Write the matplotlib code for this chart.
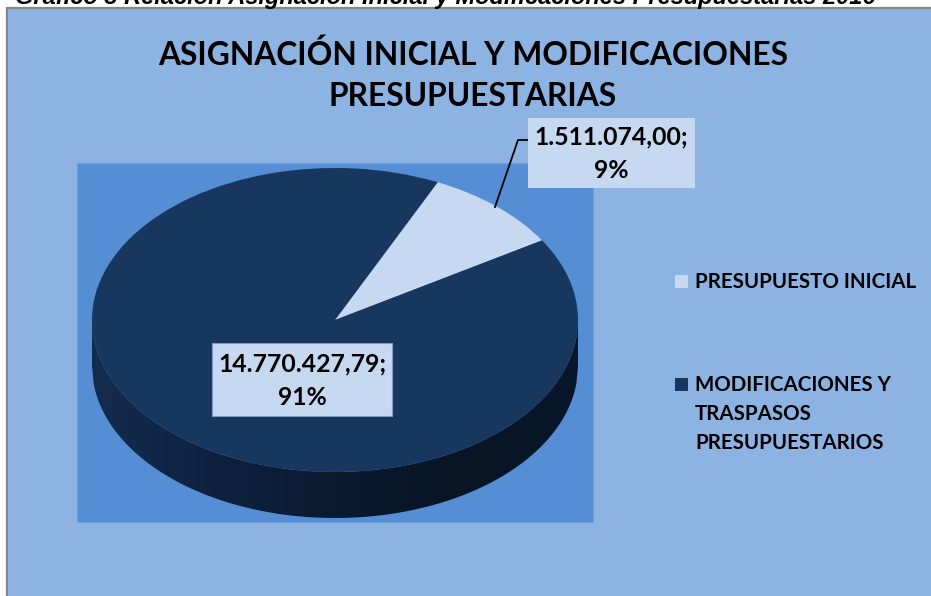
import numpy as np
import matplotlib
matplotlib.use("Agg")
import matplotlib.pyplot as plt
from matplotlib.patches import Rectangle, Polygon
from matplotlib.colors import LinearSegmentedColormap

W, H = 931, 596

caption = "Gráfico 3 Relación Asignación Inicial y Modificaciones Presupuestarias 2016"
title_lines = ["ASIGNACIÓN INICIAL Y MODIFICACIONES", "PRESUPUESTARIAS"]
categories = ["PRESUPUESTO INICIAL", "MODIFICACIONES Y\nTRASPASOS\nPRESUPUESTARIOS"]
values = [1511074.00, 14770427.79]
colors = ["#C6D9F1", "#17375E"]

FONT = "Lato"


def fx(x):
    return x / W


def fy(y):
    return 1 - y / H


def fmt_es(v):
    s = f"{v:,.2f}"
    return s.replace(",", "X").replace(".", ",").replace("X", ".")


fig = plt.figure(figsize=(W / 100, H / 100), dpi=100)
fig.patch.set_facecolor("white")

# chart area and plot area
fig.patches.append(Rectangle((fx(7), fy(H + 20)), fx(W + 20), (H + 12) / H,
                             transform=fig.transFigure, facecolor="#8DB3E2",
                             edgecolor="#878787", lw=1.6, zorder=0))
fig.patches.append(Rectangle((fx(77), fy(522)), fx(593 - 77), (522 - 163) / H,
                             transform=fig.transFigure, facecolor="#558ED5",
                             edgecolor="#6F9FDC", lw=0.8, zorder=1))

# caption (cut at the top of the image, as in the source)
fig.text(fx(15), fy(4), caption, fontsize=17, fontweight="bold", style="italic",
         family="Liberation Sans", ha="left", va="baseline")

# title
fig.text(fx(473), fy(55), title_lines[0], fontsize=22.9, fontweight="bold",
         family=FONT, ha="center", va="center")
fig.text(fx(473), fy(97), title_lines[1], fontsize=22.9, fontweight="bold",
         family=FONT, ha="center", va="center")

# pie
depth = 0.303
ax = fig.add_axes([fx(92), fy(518), fx(578 - 92), (518 - 168) / H])
ax.set_zorder(2)
ax.patch.set_alpha(0)

# side wall of the cylinder
xs = np.linspace(-1, 1, 300)
top_arc = -np.sqrt(1 - xs ** 2)
side = np.concatenate([np.column_stack([xs, top_arc]),
                       np.column_stack([xs[::-1], top_arc[::-1] - depth])])
side_poly = Polygon(side, closed=True, facecolor="none", edgecolor="none")
ax.add_patch(side_poly)
grad_cmap = LinearSegmentedColormap.from_list(
    "side", ["#142C4E", "#0E2240", "#0A1A30", "#071525", "#081729"])
grad = np.linspace(0, 1, 256).reshape(1, -1)
im = ax.imshow(grad, cmap=grad_cmap, extent=(-1, 1, -1 - depth, 0),
               aspect="auto", zorder=1)
im.set_clip_path(side_poly)

wedges, _ = ax.pie(values, colors=colors, startangle=65, counterclock=False,
                   radius=1, wedgeprops=dict(linewidth=0, zorder=2))
ax.set_aspect("auto")
ax.set_xlim(-1, 1)
ax.set_ylim(-1 - depth, 1)
ax.axis("off")

# data labels
total = sum(values)
labels = [f"{fmt_es(v)};\n{round(v / total * 100):.0f}%" for v in values]
boxes = [(528, 118, 695, 188), (212, 343, 392, 416)]
for lab, (x0, y0, x1, y1), edge in zip(labels, boxes, ["none", "#7F9CC4"]):
    fig.patches.append(Rectangle((fx(x0), fy(y1)), fx(x1 - x0), (y1 - y0) / H,
                                 transform=fig.transFigure, facecolor="#C6D9F1",
                                 edgecolor=edge, lw=0.8, zorder=5))
    fig.text(fx((x0 + x1) / 2), fy((y0 + y1) / 2 + 1), lab, fontsize=17.8,
             fontweight="bold", family=FONT, ha="center", va="center",
             linespacing=1.55, zorder=6)

# leader line for the small slice
fig.add_artist(plt.Line2D([fx(495), fx(518), fx(528)], [fy(207), fy(140), fy(140)],
                          transform=fig.transFigure, color="black", lw=1.3, zorder=4))

# legend
legend_pos = [(675, 275, 282), (675, 378, 414)]
for cat, col, (sx, sy, ty) in zip(categories, colors, legend_pos):
    fig.patches.append(Rectangle((fx(sx), fy(sy + 13)), fx(13), 13 / H,
                                 transform=fig.transFigure, facecolor=col,
                                 edgecolor="none", zorder=5))
    fig.text(fx(695), fy(ty), cat, fontsize=14.8, fontweight="bold", family=FONT,
             ha="left", va="center", linespacing=1.57)

fig.savefig("out.png", dpi=100)
